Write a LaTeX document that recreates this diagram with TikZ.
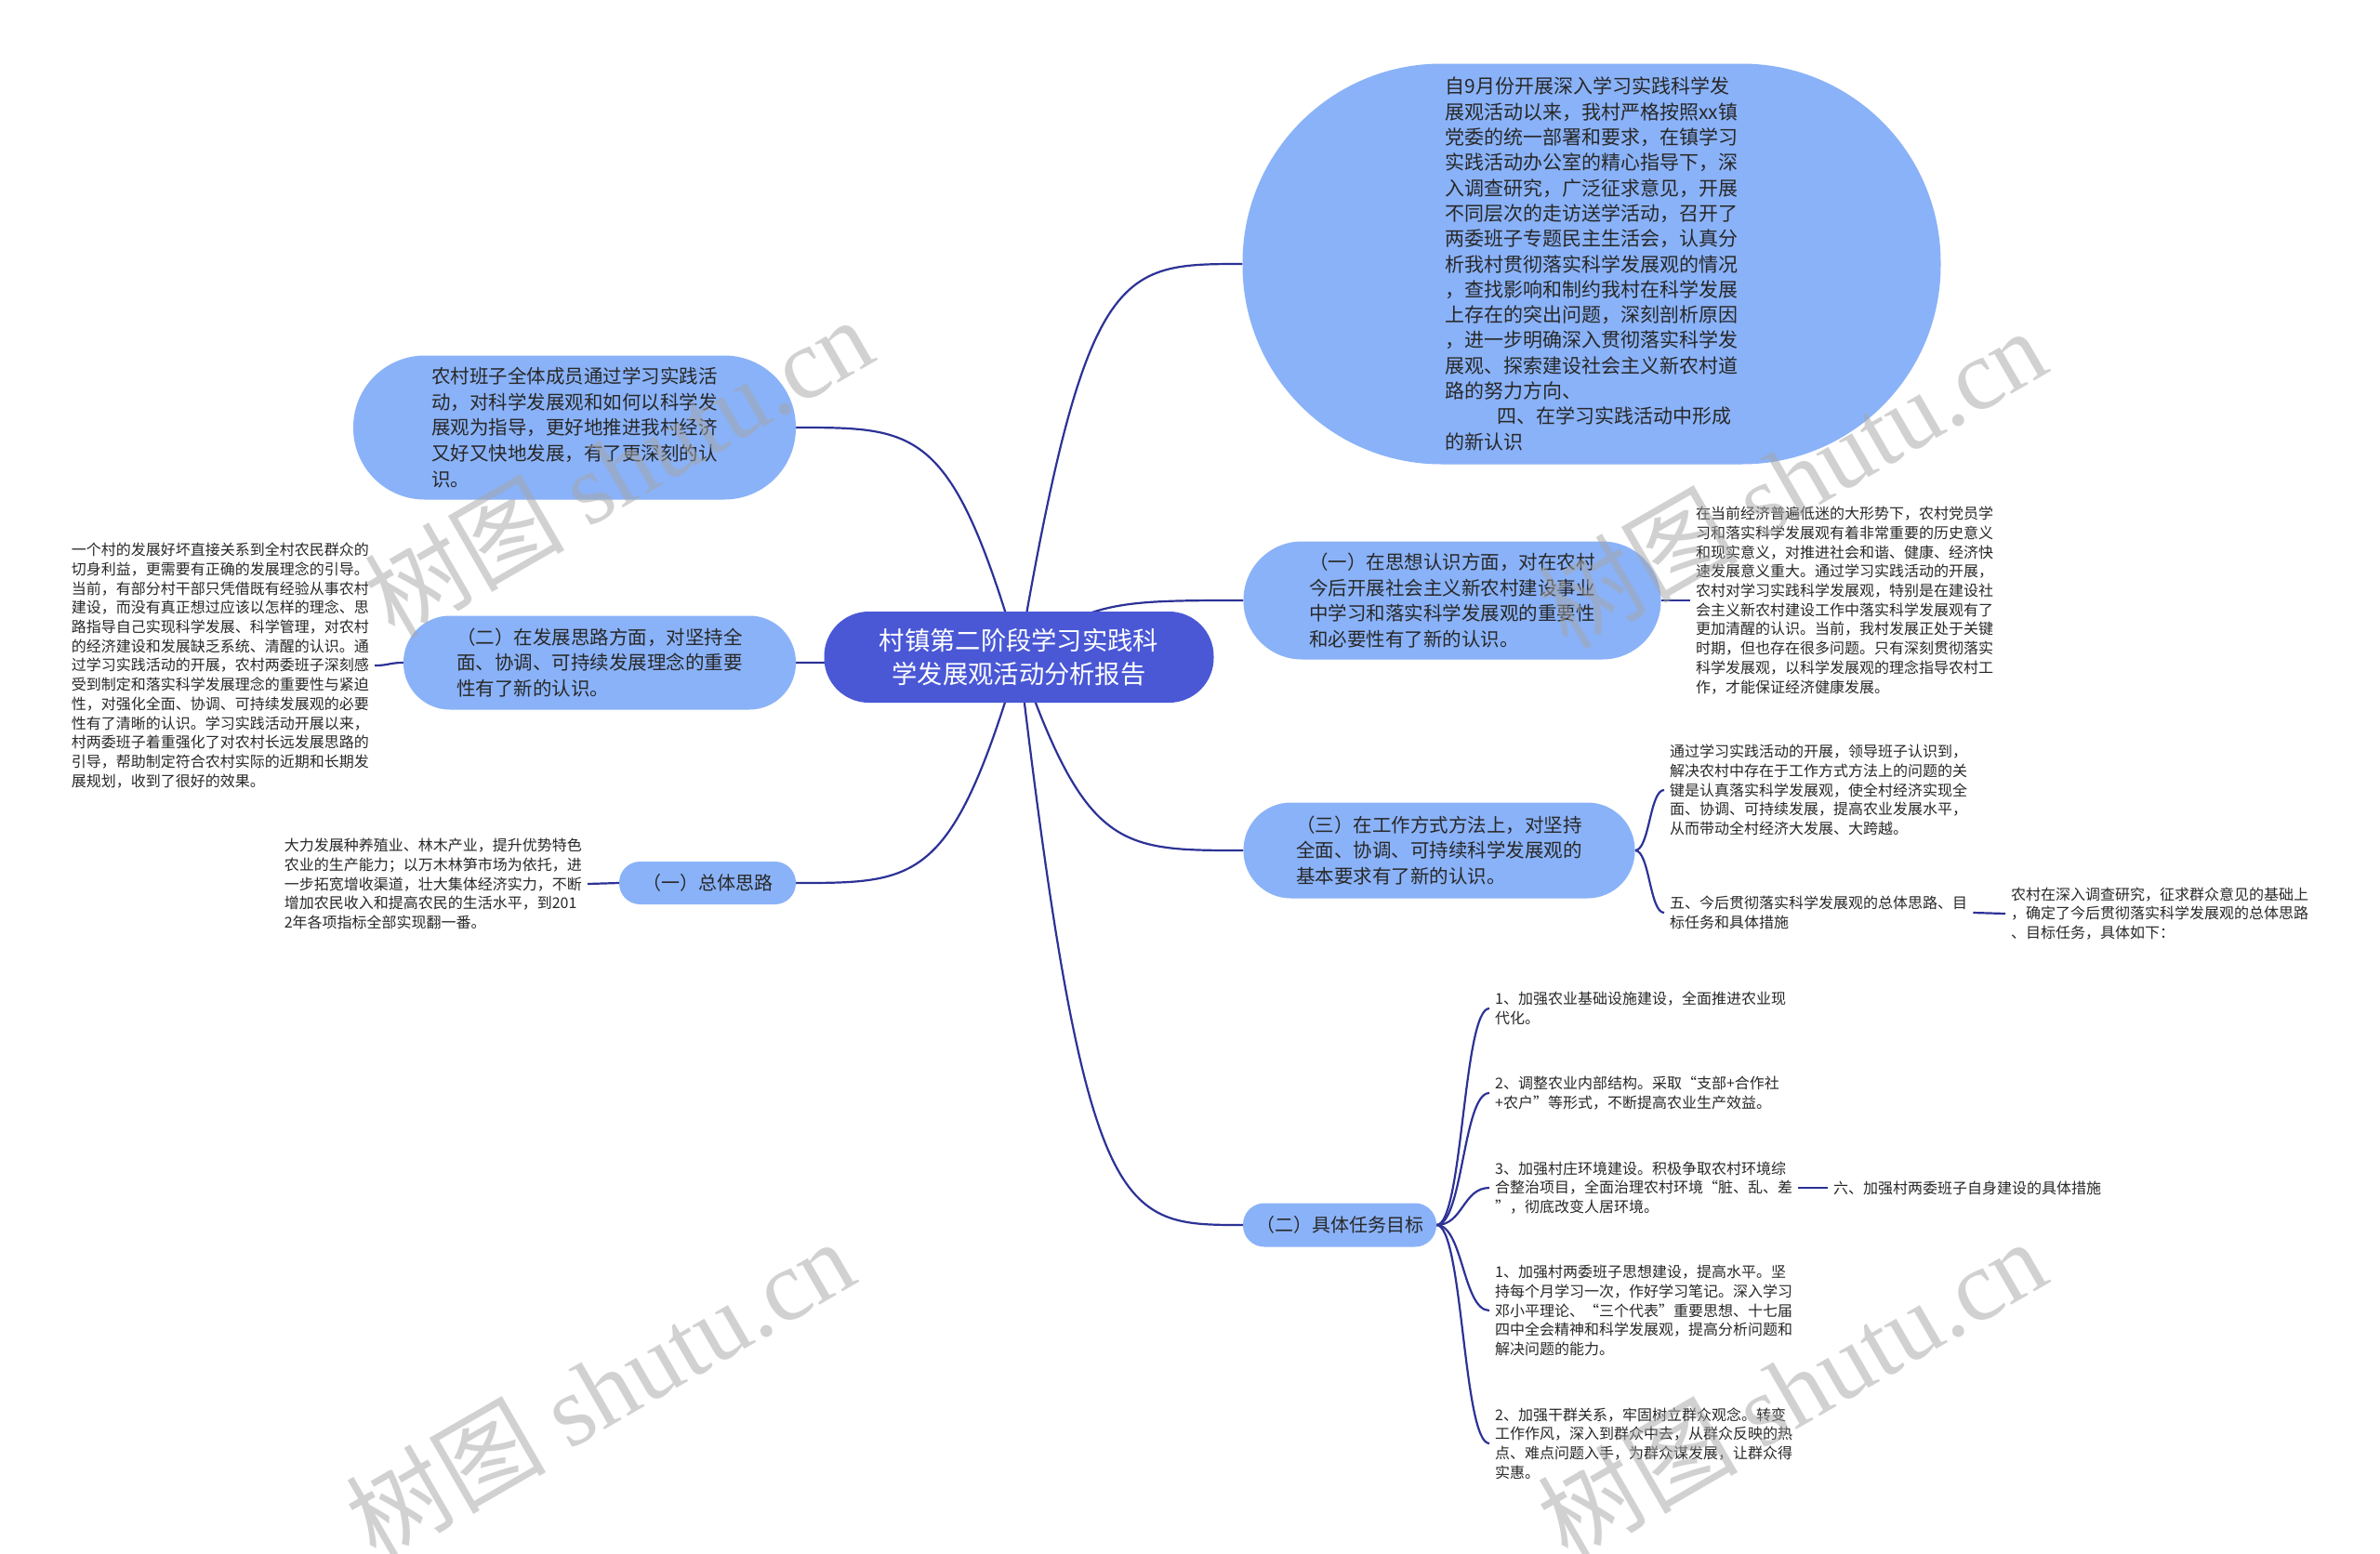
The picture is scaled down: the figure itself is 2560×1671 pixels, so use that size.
\documentclass[tikz,border=0pt]{standalone}
\usepackage{fontspec}
\setmainfont{Noto Sans CJK SC}
\newfontfamily\wmlatin{Liberation Serif}
\usetikzlibrary{calc}
\definecolor{rootblue}{RGB}{74,88,214}
\definecolor{nodeblue}{RGB}{138,178,248}
\definecolor{linec}{RGB}{44,50,150}
\definecolor{txt}{RGB}{40,40,40}
\definecolor{wm}{RGB}{165,165,165}
\pgfdeclarelayer{bg}
\pgfdeclarelayer{fg}
\pgfsetlayers{bg,main,fg}
\tikzset{
  conn/.style={draw=linec, line width=2.2pt},
  rootnode/.style={fill=rootblue, text=white, align=center, inner sep=0pt,
    font=\fontsize{27.3}{36}\selectfont},
  topic/.style={fill=nodeblue, text=txt, align=left, inner sep=0pt,
    font=\fontsize{20.5}{27.6}\selectfont},
  plain/.style={text=txt, align=left, inner xsep=6pt, inner ysep=2pt,
    font=\fontsize{16}{20.7}\selectfont},
  wmark/.style={rotate=30, text=wm, opacity=0.5, font=\fontsize{108}{108}\selectfont},
}
\begin{document}
\begin{tikzpicture}[x=1pt,y=-1pt]
\useasboundingbox (0,0) rectangle (2560,1671);

% root
\node[rootnode, minimum width=419pt, minimum height=98pt, rounded corners=48pt] (root) at (1096,707)
  {村镇第二阶段学习实践科\\学发展观活动分析报告};

% main topics
\node[topic, minimum width=751pt, minimum height=431pt, rounded corners=214pt,
  font=\fontsize{21}{27.3}\selectfont] (n1) at (1712,284) {自9月份开展深入学习实践科学发\\
展观活动以来，我村严格按照xx镇\\
党委的统一部署和要求，在镇学习\\
实践活动办公室的精心指导下，深\\
入调查研究，广泛征求意见，开展\\
不同层次的走访送学活动，召开了\\
两委班子专题民主生活会，认真分\\
析我村贯彻落实科学发展观的情况\\
，查找影响和制约我村在科学发展\\
上存在的突出问题，深刻剖析原因\\
，进一步明确深入贯彻落实科学发\\
展观、探索建设社会主义新农村道\\
路的努力方向、\\
\hspace*{56pt}四、在学习实践活动中形成\\
的新认识};

\node[topic, minimum width=476pt, minimum height=155pt, rounded corners=77pt] (n2) at (618,460)
{农村班子全体成员通过学习实践活\\
动，对科学发展观和如何以科学发\\
展观为指导，更好地推进我村经济\\
又好又快地发展，有了更深刻的认\\
识。};

\node[topic, minimum width=422pt, minimum height=101pt, rounded corners=50pt] (n3) at (645,713)
{（二）在发展思路方面，对坚持全\\
面、协调、可持续发展理念的重要\\
性有了新的认识。};

\node[topic, minimum width=190pt, minimum height=46pt, rounded corners=22.5pt,
  font=\fontsize{20}{24}\selectfont] (n4) at (761,950) {（一）总体思路};

\node[topic, minimum width=449pt, minimum height=127pt, rounded corners=63pt] (n5) at (1562,646)
{（一）在思想认识方面，对在农村\\
今后开展社会主义新农村建设事业\\
中学习和落实科学发展观的重要性\\
和必要性有了新的认识。};

\node[topic, minimum width=421pt, minimum height=103pt, rounded corners=51pt] (n6) at (1548,915)
{（三）在工作方式方法上，对坚持\\
全面、协调、可持续科学发展观的\\
基本要求有了新的认识。};

\node[topic, minimum width=208pt, minimum height=47pt, rounded corners=23pt,
  font=\fontsize{20}{24}\selectfont] (n7) at (1441,1318) {（二）具体任务目标};

% leaf texts
\node[plain, anchor=east] (t3) at (403,716)
{一个村的发展好坏直接关系到全村农民群众的\\
切身利益，更需要有正确的发展理念的引导。\\
当前，有部分村干部只凭借既有经验从事农村\\
建设，而没有真正想过应该以怎样的理念、思\\
路指导自己实现科学发展、科学管理，对农村\\
的经济建设和发展缺乏系统、清醒的认识。通\\
过学习实践活动的开展，农村两委班子深刻感\\
受到制定和落实科学发展理念的重要性与紧迫\\
性，对强化全面、协调、可持续发展观的必要\\
性有了清晰的认识。学习实践活动开展以来，\\
村两委班子着重强化了对农村长远发展思路的\\
引导，帮助制定符合农村实际的近期和长期发\\
展规划，收到了很好的效果。};

\node[plain, anchor=east] (t4) at (632,951)
{大力发展种养殖业、林木产业，提升优势特色\\
农业的生产能力；以万木林笋市场为依托，进\\
一步拓宽增收渠道，壮大集体经济实力，不断\\
增加农民收入和提高农民的生活水平，到201\\
2年各项指标全部实现翻一番。};

\node[plain, anchor=west] (t5) at (1818,646)
{在当前经济普遍低迷的大形势下，农村党员学\\
习和落实科学发展观有着非常重要的历史意义\\
和现实意义，对推进社会和谐、健康、经济快\\
速发展意义重大。通过学习实践活动的开展，\\
农村对学习实践科学发展观，特别是在建设社\\
会主义新农村建设工作中落实科学发展观有了\\
更加清醒的认识。当前，我村发展正处于关键\\
时期，但也存在很多问题。只有深刻贯彻落实\\
科学发展观，以科学发展观的理念指导农村工\\
作，才能保证经济健康发展。};

\node[plain, anchor=west] (t6a) at (1790,850)
{通过学习实践活动的开展，领导班子认识到，\\
解决农村中存在于工作方式方法上的问题的关\\
键是认真落实科学发展观，使全村经济实现全\\
面、协调、可持续发展，提高农业发展水平，\\
从而带动全村经济大发展、大跨越。};

\node[plain, anchor=west] (t6b) at (1790,982)
{五、今后贯彻落实科学发展观的总体思路、目\\
标任务和具体措施};

\node[plain, anchor=west] (t6c) at (2157,983)
{农村在深入调查研究，征求群众意见的基础上\\
，确定了今后贯彻落实科学发展观的总体思路\\
、目标任务，具体如下：};

\node[plain, anchor=west] (t7a) at (1602,1085)
{1、加强农业基础设施建设，全面推进农业现\\
代化。};
\node[plain, anchor=west] (t7b) at (1602,1176)
{2、调整农业内部结构。采取“支部+合作社\\
+农户”等形式，不断提高农业生产效益。};
\node[plain, anchor=west] (t7c) at (1602,1278)
{3、加强村庄环境建设。积极争取农村环境综\\
合整治项目，全面治理农村环境“脏、乱、差\\
”，彻底改变人居环境。};
\node[plain, anchor=west] (t7d) at (1602,1410)
{1、加强村两委班子思想建设，提高水平。坚\\
持每个月学习一次，作好学习笔记。深入学习\\
邓小平理论、“三个代表”重要思想、十七届\\
四中全会精神和科学发展观，提高分析问题和\\
解决问题的能力。};
\node[plain, anchor=west] (t7e) at (1602,1553)
{2、加强干群关系，牢固树立群众观念。转变\\
工作作风，深入到群众中去，从群众反映的热\\
点、难点问题入手，为群众谋发展，让群众得\\
实惠。};
\node[plain, anchor=west] (t7f) at (1966,1278)
{六、加强村两委班子自身建设的具体措施};

% connectors
\begin{pgfonlayer}{bg}
\fill[white] (0,0) rectangle (2560,1671);
\foreach \c/\a in {n1/west,n2/east,n3/east,n4/east,n5/west,n6/west,n7/west}{
  \path ($(root.center)!0.3!(\c.\a)$) coordinate (q1)
        ($(root.center)!0.45!(\c.\a)$) coordinate (q2);
  \draw[conn] (root.center) .. controls (q1 |- \c.\a) and (q2 |- \c.\a) .. (\c.\a);
}
\foreach \p/\c in {n3.west/t3.east, n4.west/t4.east, n5.east/t5.west,
  n6.east/t6a.west, n6.east/t6b.west, t6b.east/t6c.west,
  n7.east/t7a.west, n7.east/t7b.west, n7.east/t7c.west, n7.east/t7d.west, n7.east/t7e.west,
  t7c.east/t7f.west}{
  \path ($(\p)!0.5!(\c)$) coordinate (m);
  \draw[conn] (\p) .. controls (m |- \p) and (m |- \c) .. (\c);
}
\end{pgfonlayer}

% watermarks
\begin{pgfonlayer}{fg}
\foreach \x/\y [count=\i] in {665/502,1927/514,645/1494,1927/1494}
  \node[wmark] (wm\i) at (\x,\y) {树图 {\wmlatin shutu.cn}};
\end{pgfonlayer}
\end{tikzpicture}
\end{document}
